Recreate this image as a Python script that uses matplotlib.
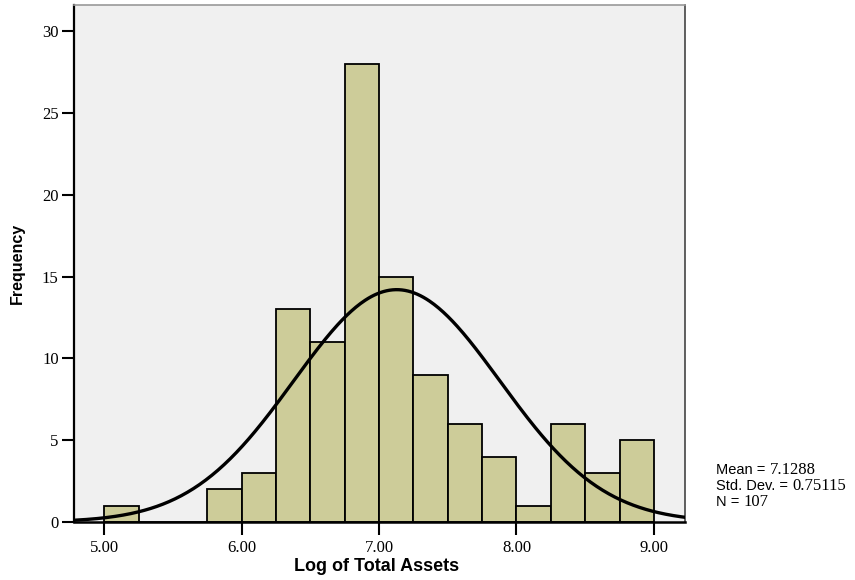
import numpy as np
import matplotlib.pyplot as plt

# histogram of log total assets, bin width 0.25 from 5.00 to 9.00
bin_edges = np.arange(5.0, 9.01, 0.25)
counts = [1, 0, 0, 2, 3, 13, 11, 28, 15, 9, 6, 4, 1, 6, 3, 5]
mean = 7.1288
std = 0.75115
n = 107

x_ticks = [5.0, 6.0, 7.0, 8.0, 9.0]
y_ticks = [0, 5, 10, 15, 20, 25, 30]

fig = plt.figure(figsize=(8.55, 5.80), dpi=100)
ax = fig.add_axes([0.0865, 0.100, 0.7146, 0.891])
ax.set_facecolor('#f0f0f0')

ax.bar(bin_edges[:-1], counts, width=0.25, align='edge',
       color='#cdcc99', edgecolor='black', linewidth=1.3, zorder=2)

# fitted normal curve scaled to counts
xs = np.linspace(4.78, 9.23, 400)
ys = n * 0.25 * np.exp(-0.5 * ((xs - mean) / std) ** 2) / (std * np.sqrt(2 * np.pi))
ax.plot(xs, ys, color='black', linewidth=2.4, zorder=3)

ax.set_xlim(4.78, 9.226)
ax.set_ylim(0, 31.6)
ax.set_xticks(x_ticks)
ax.set_xticklabels(['%.2f' % v for v in x_ticks])
ax.set_yticks(y_ticks)

for lab in ax.get_xticklabels() + ax.get_yticklabels():
    lab.set_family('Liberation Serif')
    lab.set_fontsize(12)
ax.tick_params(axis='both', direction='out', length=9, width=1.5, color='black')
ax.tick_params(axis='x', pad=4)
ax.tick_params(axis='y', pad=2)

ax.spines['left'].set_linewidth(1.6)
ax.spines['bottom'].set_linewidth(1.8)
ax.spines['top'].set_color('#999999')
ax.spines['top'].set_linewidth(1.2)
ax.spines['right'].set_color('#444444')
ax.spines['right'].set_linewidth(1.2)

ax.set_xlabel('Log of Total Assets', family='Liberation Sans', fontweight='bold',
              fontsize=13)
ax.xaxis.set_label_coords(0.495, -0.087)
ax.xaxis.label.set_va('center')
ax.set_ylabel('Frequency', family='Liberation Sans', fontweight='bold',
              fontsize=11.5, labelpad=12)

# summary statistics: labels in sans, numbers in serif
stats = [('Mean = ', '%.4f' % mean), ('Std. Dev. = ', '%.5f' % std), ('N = ', '%d' % n)]
for i, (lab, val) in enumerate(stats):
    y = 1 - (470 + 16 * i) / 580
    t = fig.text(716 / 855, y, lab, family='Liberation Sans', fontsize=10.5,
                 va='center', ha='left')
    ax.annotate(val, xy=(1, 0.5), xycoords=t, va='center', ha='left',
                family='Liberation Serif', fontsize=12)

fig.savefig('out.png', dpi=100)
